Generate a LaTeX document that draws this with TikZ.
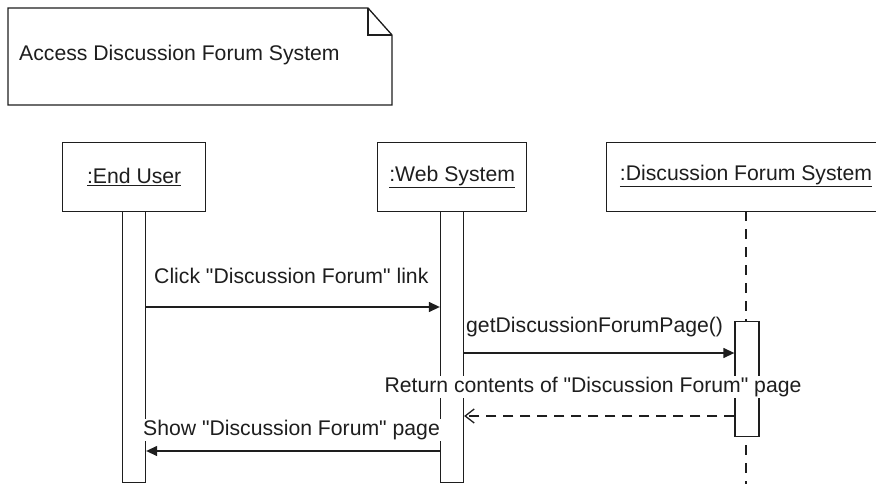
\documentclass[tikz,border=0pt]{standalone}
\usepackage{fontspec}
\setmainfont{Liberation Sans}
\usetikzlibrary{arrows.meta}
\definecolor{ink}{HTML}{1E1E1E}
\newcommand{\dq}{\textquotedbl}
\begin{document}
\begin{tikzpicture}[x=1pt,y=-1pt,
  every node/.style={font=\fontsize{21.2}{25}\selectfont, text=ink},
  line/.style={draw=ink, line width=1.3pt},
  objbox/.style={line, rectangle, fill=white, minimum height=69pt, inner sep=0pt, anchor=north west},
  bar/.style={line, rectangle, fill=white, minimum width=23pt, inner sep=0pt, anchor=north},
  lbl/.style={inner sep=1pt},
  wlbl/.style={inner sep=1pt, fill=white},
  msg/.style={line, -{Triangle[length=11pt,width=10pt]}},
  ret/.style={line, dash pattern=on 10pt off 7pt, -{Straight Barb[length=9pt,width=14pt,line width=1.3pt]}},
  lifeline/.style={line, dash pattern=on 10pt off 8pt}]
\useasboundingbox (0,0) rectangle (876,484);
% note
\draw[line, fill=white] (8,8) -- (368,8) -- (392,35) -- (392,105) -- (8,105) -- cycle;
\draw[line] (368,8) -- (368,35) -- (392,35);
\node[lbl, anchor=west] (note) at (18,55) {Access Discussion Forum System};
% lifeline boxes
\node[objbox, minimum width=143pt] (eu) at (62,142) {};
\node at (eu.center) {\underline{:End User}};
\node[objbox, minimum width=149pt] (ws) at (377,142) {};
\node at (ws.center) {\underline{:Web System}};
\begin{scope}
\clip (0,0) rectangle (876,484);
\node[objbox, minimum width=280pt] (dfs) at (606,142) {};
\end{scope}
\node (dfslbl) at (746,176) {\underline{:Discussion Forum System}};
% bars
\node[bar, minimum height=271pt] (eubar) at (134,211) {};
\node[bar, minimum height=271pt] (wsbar) at (452,211) {};
\coordinate (dtop) at (746,211);
\coordinate (dbot) at (746,484);
\draw[lifeline] (dtop) -- (dbot);
\node[bar, minimum height=115pt, minimum width=24pt] (dfsbar) at (747,321) {};
% labels
\node[lbl, anchor=west] (m1) at (153,276) {Click \dq Discussion Forum\dq{} link};
\node[lbl, anchor=west] (m2) at (465,327) {getDiscussionForumPage()};
\node[wlbl] (m3) at (593,387) {Return contents of \dq Discussion Forum\dq{} page};
\node[wlbl, anchor=west] (m4) at (142,430) {Show \dq Discussion Forum\dq{} page};
% messages
\draw[msg] (eubar.east |- 0,307) -- (wsbar.west |- 0,307);
\draw[msg] (wsbar.east |- 0,353) -- (dfsbar.west |- 0,353);
\draw[ret] (dfsbar.west |- 0,416) -- (wsbar.east |- 0,416);
\draw[msg] (wsbar.west |- 0,451) -- (eubar.east |- 0,451);
\end{tikzpicture}
\end{document}
